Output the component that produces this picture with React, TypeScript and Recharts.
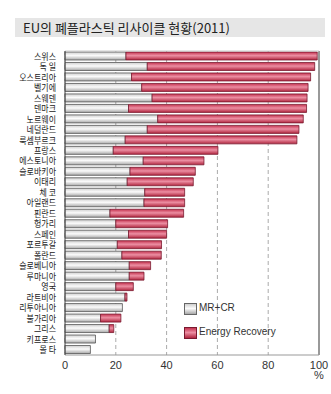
import React from 'react';
import { BarChart, Bar, XAxis, YAxis, CartesianGrid, ReferenceLine } from 'recharts';

const countries = ['스위스', '독  일', '오스트리아', '벨기에', '스웨덴', '덴마크', '노르웨이', '네덜란드', '룩셈부르크', '프랑스', '에스토니아', '슬로바키아', '이태리', '체  코', '아일랜드', '핀란드', '헝가리', '스페인', '포르투갈', '폴란드', '슬로베니아', '루마니아', '영국', '라트비아', '리투아니아', '불가리아', '그리스', '키프로스', '몰  타'];
const mrcr = [24, 32.4, 26.2, 30.2, 34.3, 25, 36.5, 32.4, 23.7, 19, 30.8, 25.6, 24.5, 31.4, 31.1, 17.7, 20, 25, 20.6, 22.4, 25.3, 25.3, 20, 23.6, 22.6, 14, 17.4, 12, 10];
const totals = [99.3, 98.3, 96.7, 95.7, 95.3, 95.1, 93.8, 92.1, 91.3, 60.2, 54.7, 51.3, 50.5, 47.1, 47.1, 46.7, 40.4, 40, 38, 37.9, 33.7, 31.1, 26.9, 24.4, 22.6, 22, 19.2, 12, 10];
const xTicks = [0, 20, 40, 60, 80, 100];
const title = 'EU의 폐플라스틱 리사이클 현황(2011)';
const legendLabels = ['MR+CR', 'Energy Recovery'];

const data = countries.map((c, i) => ({
  name: c,
  mr: mrcr[i],
  er: Math.max(0, +(totals[i] - mrcr[i]).toFixed(1)),
}));

const XTick = (props: any) => {
  const { x, y, payload } = props;
  return (
    <g>
      <text x={x} y={y + 6} textAnchor="middle" fontSize={11} fill="#333" fontFamily="Liberation Sans, Arial, sans-serif">
        {payload.value}
      </text>
      {payload.value === 100 && (
        <text x={x} y={y + 16} textAnchor="middle" fontSize={11} fill="#333" fontFamily="Liberation Sans, Arial, sans-serif">
          %
        </text>
      )}
    </g>
  );
};

const YTick = (props: any) => {
  const { x, y, payload } = props;
  return (
    <g transform={`translate(${x - 1},${y + 3.4}) scale(0.86,1)`}>
      <text x={0} y={0} textAnchor="end" fontSize={9.3} fill="#1a1a1a" fontFamily="Noto Sans CJK KR, sans-serif">
        {payload.value}
      </text>
    </g>
  );
};

export default function App() {
  return (
    <div style={{ position: 'absolute', left: 0, top: 0, width: 331, height: 394, background: '#fff' }}>
      <div
        style={{
          position: 'absolute',
          left: 15,
          top: 18,
          width: 310,
          height: 19,
          background: '#e6e6e6',
          fontFamily: 'Noto Sans CJK KR, sans-serif',
          fontSize: 13,
          lineHeight: '19px',
          color: '#222',
          paddingLeft: 8,
          boxSizing: 'border-box',
        }}
      >
        {title}
      </div>
      <div style={{ position: 'absolute', left: 0, top: 0 }}>
        <BarChart
          width={331}
          height={394}
          data={data}
          layout="vertical"
          margin={{ top: 50, right: 12, bottom: 9, left: 0 }}
          barSize={8}
        >
          <defs>
            <linearGradient id="gGray" x1="0" y1="0" x2="0" y2="1">
              <stop offset="0%" stopColor="#cfcfcf" />
              <stop offset="45%" stopColor="#fbfbfb" />
              <stop offset="100%" stopColor="#a8a8a8" />
            </linearGradient>
            <linearGradient id="gRed" x1="0" y1="0" x2="0" y2="1">
              <stop offset="0%" stopColor="#c4324f" />
              <stop offset="45%" stopColor="#ec8ea2" />
              <stop offset="100%" stopColor="#b0263f" />
            </linearGradient>
          </defs>
          <CartesianGrid horizontal={false} vertical={true} stroke="#aaa" strokeDasharray="4 3" />
          <XAxis
            type="number"
            domain={[0, 100]}
            ticks={xTicks}
            tick={<XTick />}
            tickLine={false}
            height={30}
            axisLine={{ stroke: '#999' }}
          />
          <XAxis
            xAxisId="top"
            type="number"
            orientation="top"
            domain={[0, 100]}
            tick={false}
            tickLine={false}
            height={1}
            axisLine={{ stroke: '#ccc' }}
          />
          <YAxis
            type="category"
            dataKey="name"
            width={65}
            tick={<YTick />}
            tickLine={false}
            axisLine={{ stroke: '#444' }}
            interval={0}
          />
          <ReferenceLine x={100} stroke="#999" strokeWidth={2} />
          <Bar dataKey="mr" stackId="a" fill="url(#gGray)" stroke="#555" strokeWidth={0.8} isAnimationActive={false} />
          <Bar dataKey="er" stackId="a" fill="url(#gRed)" stroke="#7a1a30" strokeWidth={0.8} isAnimationActive={false} />
        </BarChart>
      </div>
      <div style={{ position: 'absolute', left: 184, top: 303, width: 11, height: 10, background: 'linear-gradient(#cfcfcf, #fbfbfb 45%, #a8a8a8)', border: '1px solid #666' }} />
      <div style={{ position: 'absolute', left: 199, top: 301, fontFamily: 'Liberation Sans, Arial, sans-serif', fontSize: 10, color: '#333', lineHeight: '14px' }}>
        {legendLabels[0]}
      </div>
      <div style={{ position: 'absolute', left: 184, top: 327, width: 11, height: 10, background: 'linear-gradient(#c4324f, #ec8ea2 45%, #b0263f)', border: '1px solid #7a1a30' }} />
      <div style={{ position: 'absolute', left: 199, top: 325, fontFamily: 'Liberation Sans, Arial, sans-serif', fontSize: 10, color: '#333', lineHeight: '14px' }}>
        {legendLabels[1]}
      </div>
    </div>
  );
}
